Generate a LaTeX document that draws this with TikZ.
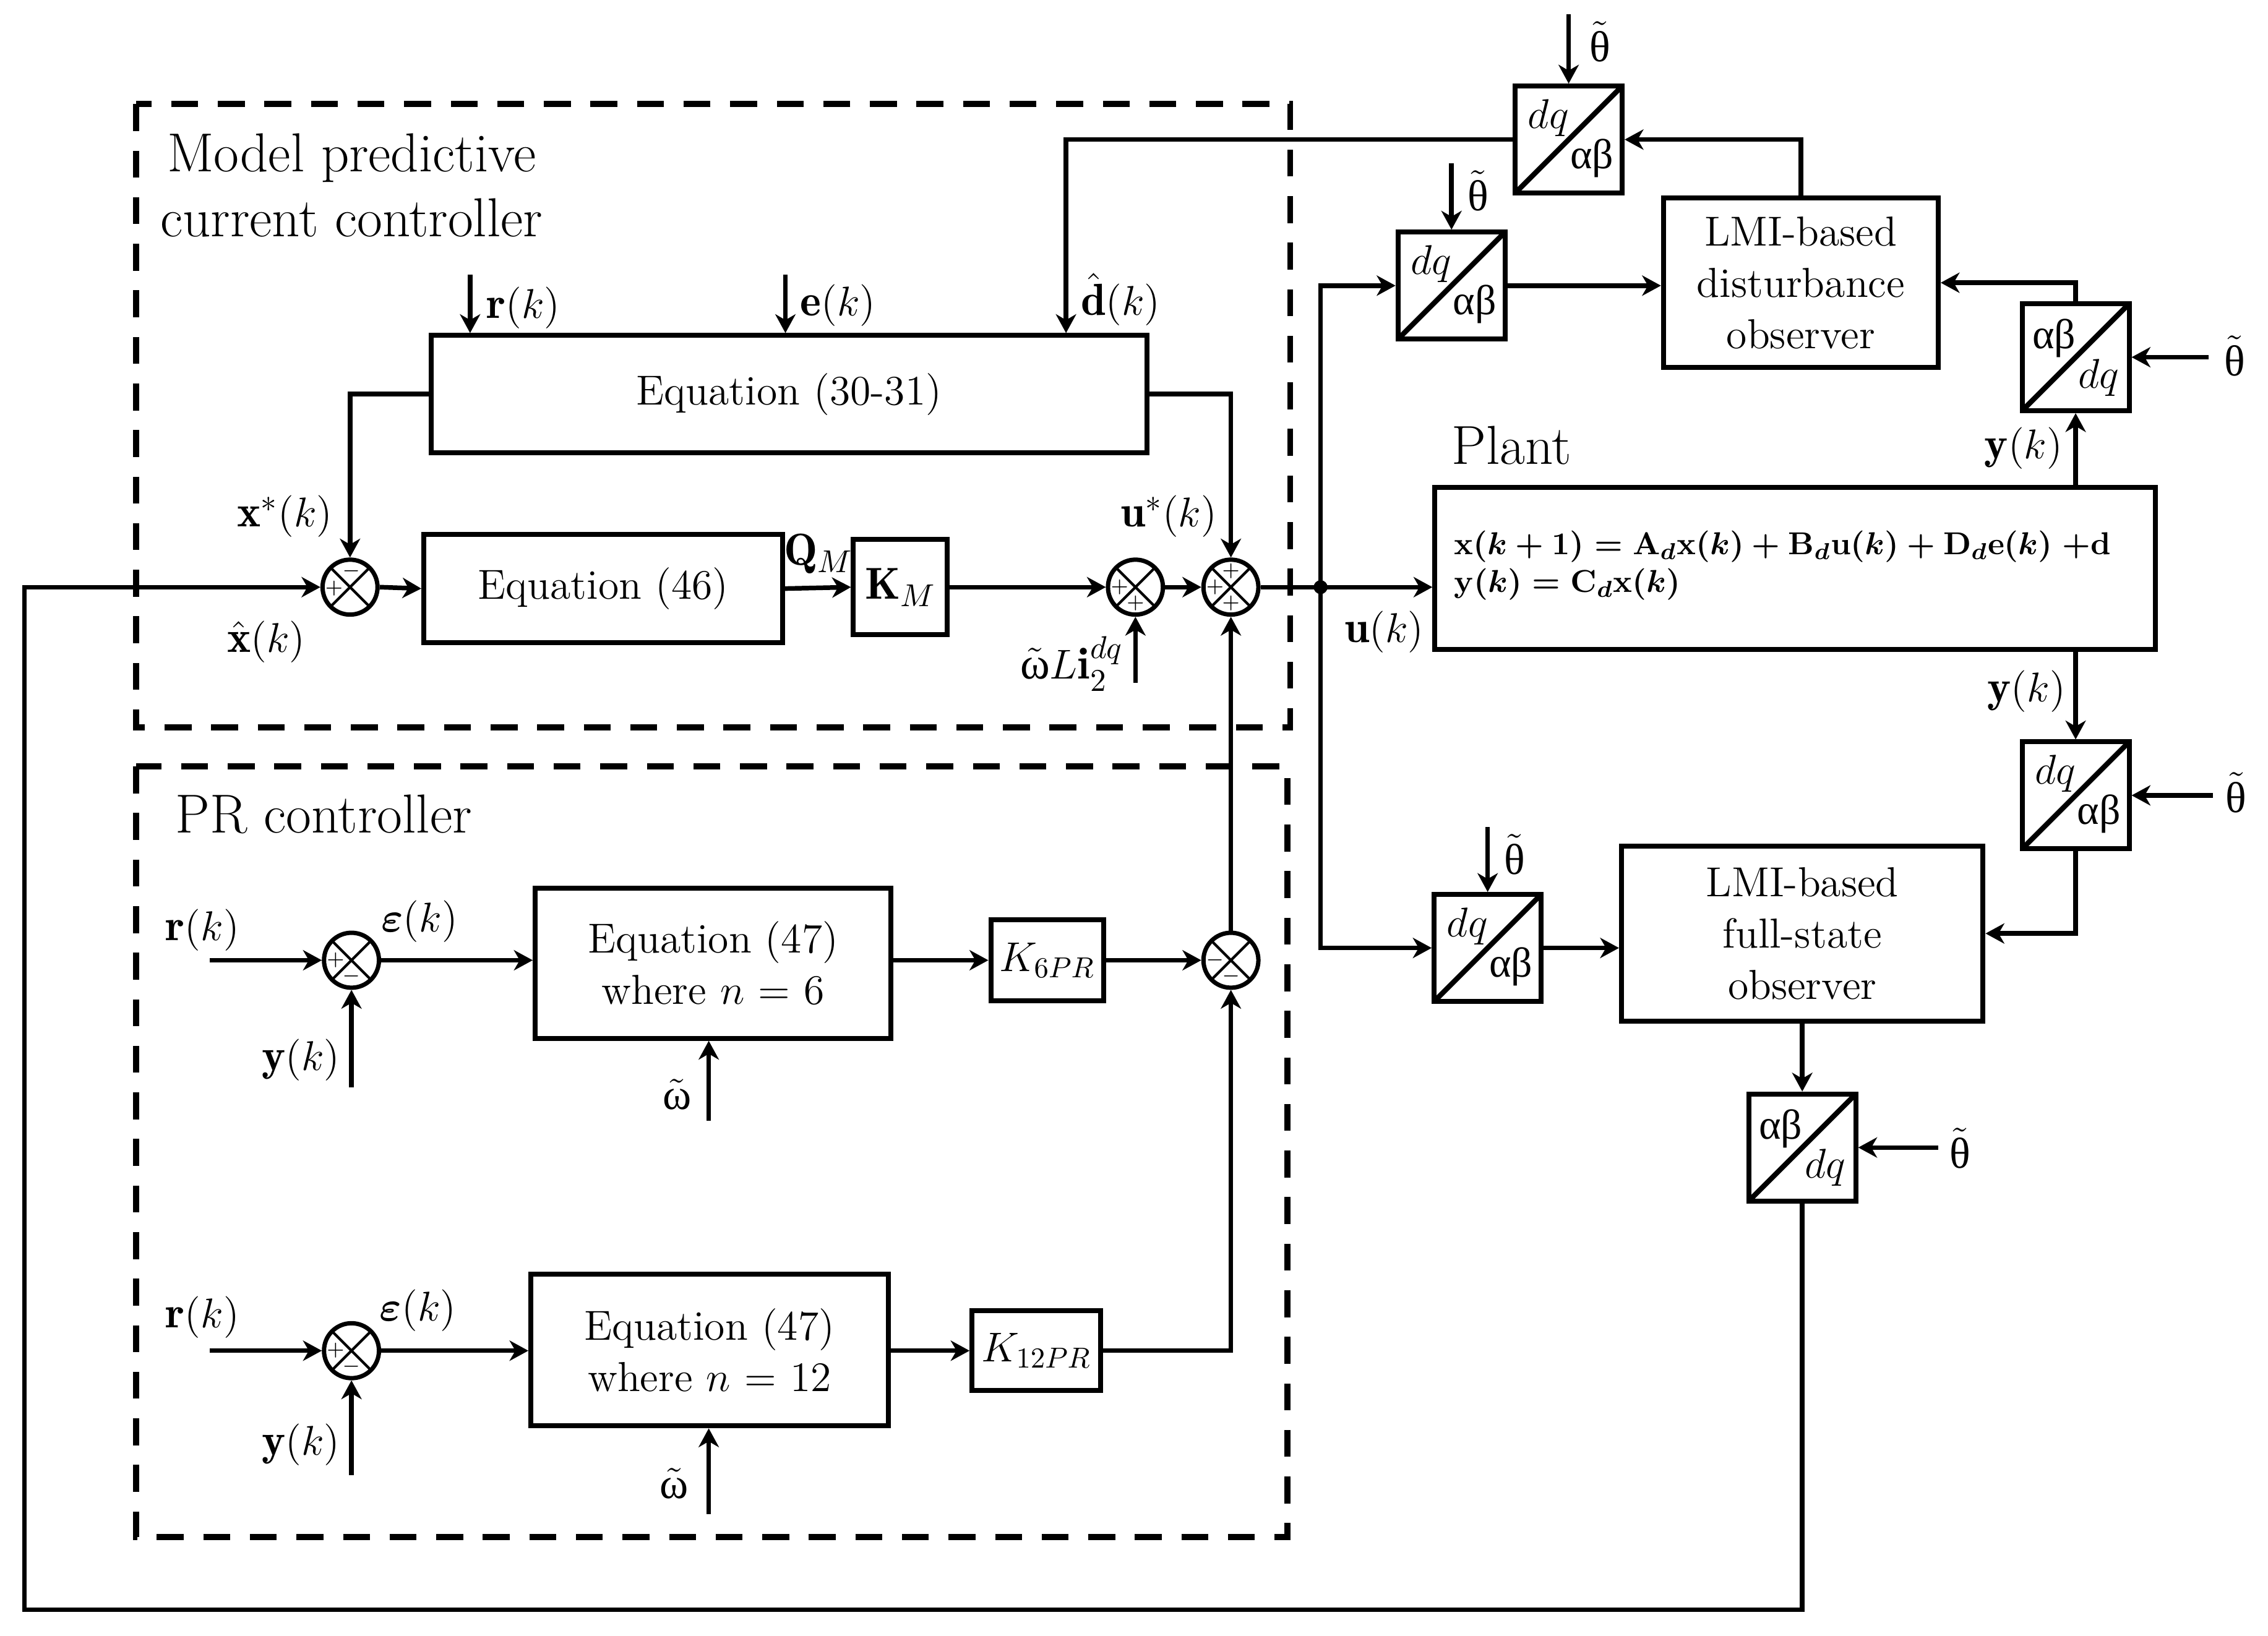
\documentclass[tikz,border=0pt]{standalone}
\usepackage{amsmath,bm}
\usepackage{fontspec}
\newfontfamily\grk{Liberation Serif}
\usetikzlibrary{arrows.meta,calc}
\newcommand{\tth}{$\tilde{\mbox{\grk θ}}$}
\newcommand{\tom}{\tilde{\mbox{\grk ω}}}
\begin{document}
\begin{tikzpicture}[x=0.5pt,y=-0.5pt,
  every node/.style={font=\fontsize{14.5}{17.75}\selectfont, inner sep=0pt},
  arr/.style={line width=1.6pt,-{Stealth[length=6.5pt,width=7pt,inset=2pt]}},
  blk/.style={draw, line width=1.7pt, align=center},
  sumc/.style={circle, draw, line width=1.5pt, minimum size=19pt, inner sep=0pt,
    path picture={\draw[line width=0.9pt] (path picture bounding box.north west)--(path picture bounding box.south east)
      (path picture bounding box.north east)--(path picture bounding box.south west);}},
  sgn/.style={font=\fontsize{7.5}{7.5}\selectfont},
  tf/.style={draw, line width=1.7pt, minimum size=37pt,
    path picture={\draw[line width=1.8pt] (path picture bounding box.south west)--(path picture bounding box.north east);}},
  dashbox/.style={line width=2.1pt, dash pattern=on 9.3pt off 6.8pt},
  head/.style={font=\fontsize{19}{22.5}\selectfont},
  lab/.style={font=\fontsize{15.5}{18}\selectfont},
  th/.style={font=\fontsize{15}{15}\selectfont},
  peq/.style={anchor=west, font=\fontsize{11.1}{13}\selectfont\boldmath}
]
\useasboundingbox (0,0) rectangle (1568,1131);

% dashed frames
\draw[dashbox] (94,72) rectangle (892,503);
\draw[dashbox] (94,530) rectangle (890,1063);
\node[head, align=center] (hmpc) at (243,128) {Model predictive\\current controller};
\node[head, anchor=west] (hpr) at (121,563) {PR controller};

% ---- MPC part
\node[blk, minimum width=247.5pt, minimum height=40.5pt] (eq3031) at (545.5,272.5) {Equation (30-31)};
\node[blk, minimum width=124pt, minimum height=37.5pt] (eq46) at (417,407) {Equation (46)};
\node[blk, minimum width=32.5pt, minimum height=33pt] (KM) at (622.5,406) {\fontsize{15.5}{18}\selectfont$\mathbf{K}_M$};
\node[sumc] (s1) at (242,406) {};
\node[sumc] (s2) at (785,406) {};
\node[sumc] (s3) at (851,406) {};
\node[sgn] (s1a) at ($(s1)+(-11,1)$) {$+$};
\node[sgn] (s1b) at ($(s1)+(1,-11)$) {$-$};
\node[sgn] (s2a) at ($(s2)+(-11,0)$) {$+$};
\node[sgn] (s2b) at ($(s2)+(0,11)$) {$+$};
\node[sgn] (s3a) at ($(s3)+(-11,0)$) {$+$};
\node[sgn] (s3b) at ($(s3)+(0,-11)$) {$+$};
\node[sgn] (s3c) at ($(s3)+(0,11)$) {$+$};

\coordinate (rin) at (325,190);
\coordinate (ein) at (543,190);
\coordinate (dtop) at (737,96.5);
\draw[arr] (rin) -- (rin |- eq3031.north);
\draw[arr] (ein) -- (ein |- eq3031.north);
\node[lab, anchor=west] (lr) at (336,213) {$\mathbf{r}(k)$};
\node[lab, anchor=west] (le) at (553,211) {$\mathbf{e}(k)$};
\node[lab, anchor=west] (ld) at (747,207) {$\hat{\mathbf{d}}(k)$};

\draw[arr] (eq3031.west) -| (s1.north);
\draw[arr] (eq3031.east) -| (s3.north);
\node[lab] (lxs) at (197,357) {$\mathbf{x}^{*}(k)$};
\node[lab] (lxh) at (184,444) {$\hat{\mathbf{x}}(k)$};
\node[lab] (lus) at (808,357) {$\mathbf{u}^{*}(k)$};
\draw[arr] (s1.east) -- (eq46.west);
\draw[arr] (eq46.east) -- (KM.west);
\node[lab] (lq) at (566,383) {$\mathbf{Q}_M$};
\draw[arr] (KM.east) -- (s2.west);
\draw[arr] (s2.east) -- (s3.west);
\coordinate (win) at (785,472);
\draw[arr] (win) -- (s2.south);
\node[lab] (lw) at (741,459) {$\tom L\mathbf{i}_2^{dq}$};

% ---- plant
\node[blk, minimum width=249pt, minimum height=56pt] (plant) at (1241,393) {};
\node[head] (lplant) at (1045,308) {Plant};
\node[peq] (pe1) at (1005,378) {$\mathbf{x}(k+1)=\mathbf{A}_d\mathbf{x}(k)+\mathbf{B}_d\mathbf{u}(k)+\mathbf{D}_d\mathbf{e}(k)\;{+}\mathbf{d}$};
\node[peq] (pe2) at (1005,404) {$\mathbf{y}(k)=\mathbf{C}_d\mathbf{x}(k)$};
\coordinate (J) at (913,406);
\draw[arr] (s3.east) -- (s3.east -| plant.west);
\fill (J) circle (2.4pt);
\node[lab] (lu) at (957,437) {$\mathbf{u}(k)$};

% ---- transformation blocks
\node[tf] (T1) at (1084.5,96.5) {};
\node[tf] (T2) at (1003.5,197.5) {};
\node[tf] (T3) at (1435,247) {};
\node[tf] (T4) at (1435,550) {};
\node[tf] (T5) at (1028.5,655.5) {};
\node[tf] (T6) at (1246,793.5) {};
\foreach \t in {T1,T2,T4,T5}{
  \node (\t dq) at ($(\t)+(-14,-15)$) {$dq$};
  \node (\t ab) at ($(\t)+(16,13)$) {\grk αβ};
}
\foreach \t in {T3,T6}{
  \node (\t ab) at ($(\t)+(-15,-13)$) {\grk αβ};
  \node (\t dq) at ($(\t)+(16,14)$) {$dq$};
}

% observers
\node[blk, minimum width=95pt, minimum height=58.5pt] (LMId) at (1245,195.5) {LMI-based\\disturbance\\observer};
\node[blk, minimum width=125pt, minimum height=60.5pt] (LMIf) at (1246,645.5) {LMI-based\\full-state\\observer};

% theta inputs
\coordinate (th1) at (1084.5,10);
\coordinate (th2) at (1003.5,113);
\coordinate (th3) at (1527,247);
\coordinate (th4) at (1530,550);
\coordinate (th5) at (1028.5,572);
\coordinate (th6) at (1340,793.5);
\draw[arr] (th1) -- (T1.north);
\draw[arr] (th2) -- (T2.north);
\draw[arr] (th3) -- (T3.east);
\draw[arr] (th4) -- (T4.east);
\draw[arr] (th5) -- (T5.north);
\draw[arr] (th6) -- (T6.east);
\node[th] (lt1) at (1106,29) {\tth};
\node[th] (lt2) at (1022,132) {\tth};
\node[th] (lt3) at (1545,246) {\tth};
\node[th] (lt4) at (1546,548) {\tth};
\node[th] (lt5) at (1047,591) {\tth};
\node[th] (lt6) at (1355,794) {\tth};

% connections right side
\draw[arr] (J) |- (T2.west);
\draw[arr] (J) |- (T5.west);
\draw[arr] (T2.east) -- (T2.east -| LMId.west);
\draw[arr] (T5.east) -- (T5.east -| LMIf.west);
\draw[arr] (plant.north -| T3.south) -- (T3.south);
\draw[arr] (T3.north) |- (LMId.east);
\draw[arr] (LMId.north) |- (T1.east);
\draw[arr] (T1.west) -- (dtop) -- (dtop |- eq3031.north);
\draw[arr] (plant.south -| T4.north) -- (T4.north);
\draw[arr] (T4.south) |- (LMIf.east);
\draw[arr] (LMIf.south) -- (T6.north);
\node[lab] (ly1) at (1399,310) {$\mathbf{y}(k)$};
\node[lab] (ly2) at (1401,478) {$\mathbf{y}(k)$};

% feedback
\coordinate (fbB) at (17,1113);
\draw[arr] (T6.south) |- (fbB) -- (fbB |- s1.west) -- (s1.west);

% ---- PR part
\node[sumc] (s4) at (243,664) {};
\node[sumc] (s6) at (243,934) {};
\node[sumc] (s5) at (851,664) {};
\node[sgn] (s4a) at ($(s4)+(-11,0)$) {$+$};
\node[sgn] (s4b) at ($(s4)+(0,11)$) {$-$};
\node[sgn] (s6a) at ($(s6)+(-11,0)$) {$+$};
\node[sgn] (s6b) at ($(s6)+(0,11)$) {$-$};
\node[sgn] (s5a) at ($(s5)+(-11,0)$) {$-$};
\node[sgn] (s5b) at ($(s5)+(0,11)$) {$-$};

\node[blk, minimum width=123pt, minimum height=52pt] (eq47a) at (493,666) {Equation (47)\\where $n$ = 6};
\node[blk, minimum width=123.5pt, minimum height=52.5pt] (eq47b) at (490.5,933.5) {Equation (47)\\where $n$ = 12};
\node[blk, minimum width=39pt, minimum height=28pt] (K6) at (724,664) {$K_{6PR}$};
\node[blk, minimum width=44.5pt, minimum height=27.5pt] (K12) at (716.5,934) {$K_{12PR}$};

\coordinate (r1) at (145,664);
\coordinate (r2) at (145,934);
\coordinate (y1) at (243,752);
\coordinate (y2) at (243,1020);
\coordinate (w1) at (490,775);
\coordinate (w2) at (490,1047);
\draw[arr] (r1) -- (s4.west);
\draw[arr] (r2) -- (s6.west);
\draw[arr] (y1) -- (s4.south);
\draw[arr] (y2) -- (s6.south);
\draw[arr] (s4.east) -- (s4.east -| eq47a.west);
\draw[arr] (s6.east) -- (s6.east -| eq47b.west);
\draw[arr] (w1) -- (w1 |- eq47a.south);
\draw[arr] (w2) -- (w2 |- eq47b.south);
\draw[arr] (eq47a.east |- K6.west) -- (K6.west);
\draw[arr] (eq47b.east |- K12.west) -- (K12.west);
\draw[arr] (K6.east) -- (s5.west);
\draw[arr] (K12.east) -| (s5.south);
\draw[arr] (s5.north) -- (s3.south);

\node[lab] (lr1) at (140,643) {$\mathbf{r}(k)$};
\node[lab] (lr2) at (140,911) {$\mathbf{r}(k)$};
\node[lab] (ly3) at (208,733) {$\mathbf{y}(k)$};
\node[lab] (ly4) at (208,999) {$\mathbf{y}(k)$};
\node[lab] (le1) at (290,637) {$\bm{\varepsilon}(k)$};
\node[lab] (le2) at (289,906) {$\bm{\varepsilon}(k)$};
\node[th] (lw1) at (468,757) {$\tom$};
\node[th] (lw2) at (466,1026) {$\tom$};
\end{tikzpicture}
\end{document}
